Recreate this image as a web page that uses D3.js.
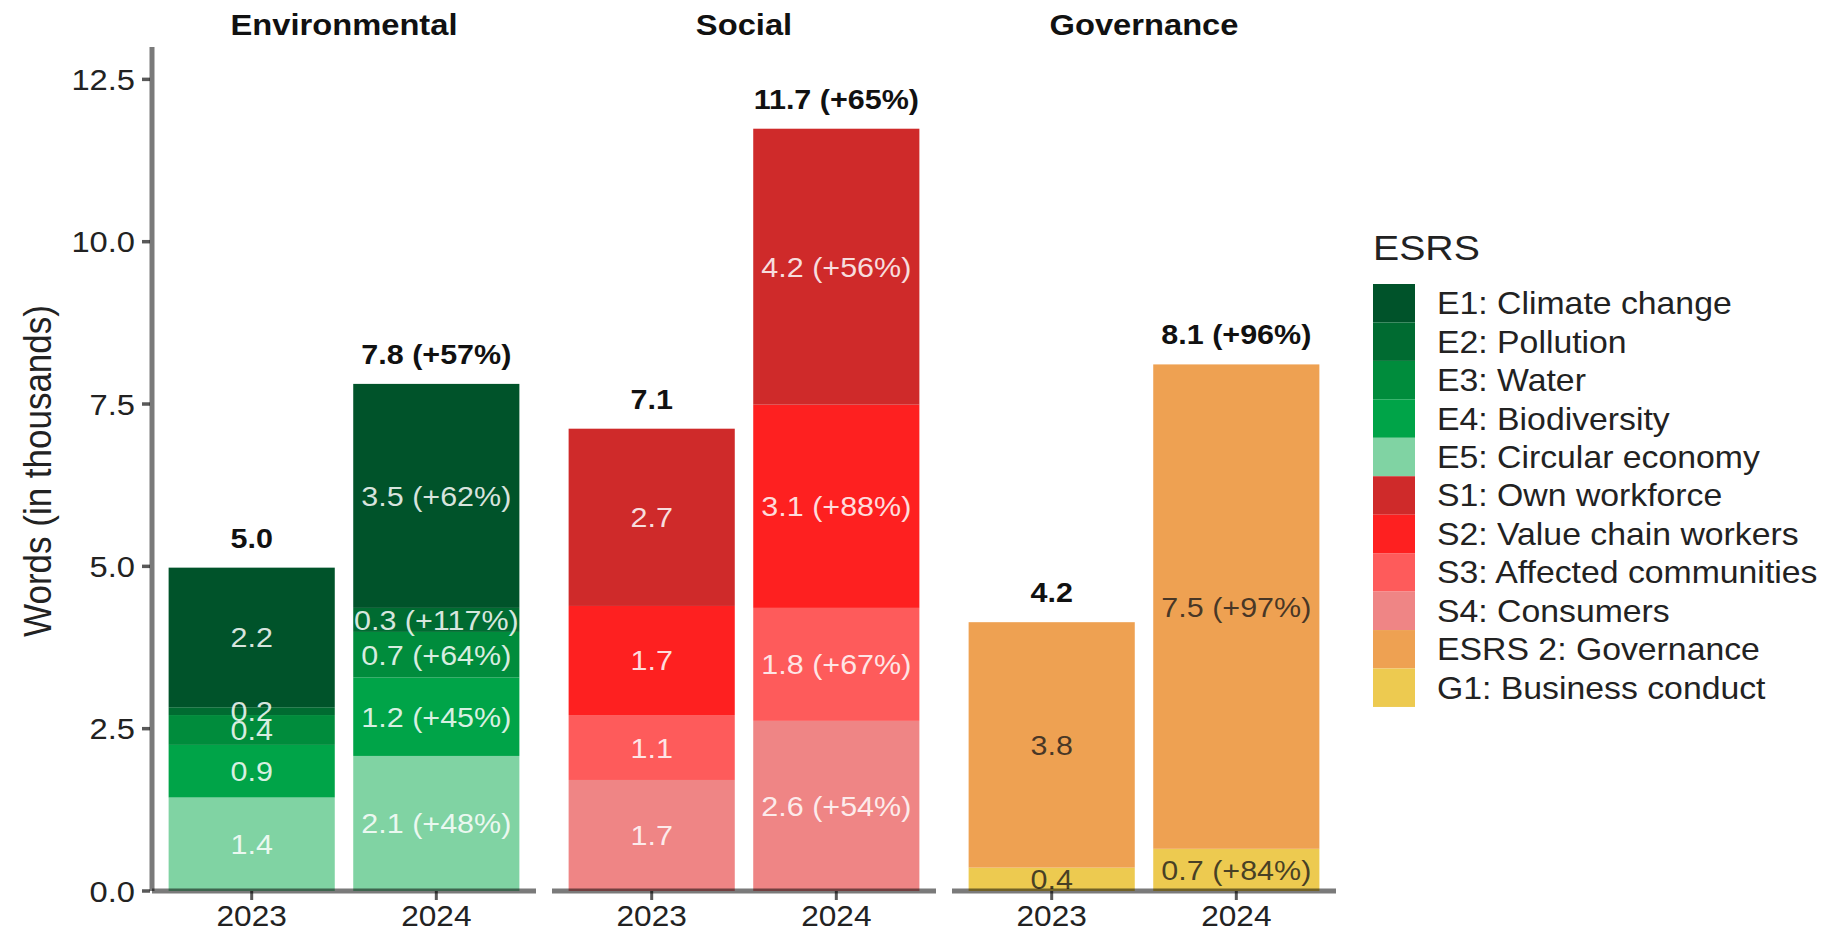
<!DOCTYPE html>
<html><head><meta charset="utf-8">
<script src="https://cdn.jsdelivr.net/npm/d3@7"></script>
<style>body{margin:0;background:#fff}svg{display:block}</style>
</head><body><svg id="c" width="1824" height="933"></svg>
<script>
// ---------- data ----------
const years = ["2023", "2024"];
const panels = ["Environmental", "Social", "Governance"];
const categories = ["E1: Climate change", "E2: Pollution", "E3: Water", "E4: Biodiversity", "E5: Circular economy",
  "S1: Own workforce", "S2: Value chain workers", "S3: Affected communities", "S4: Consumers",
  "ESRS 2: Governance", "G1: Business conduct"];
const categoryPanel = ["Environmental", "Environmental", "Environmental", "Environmental", "Environmental",
  "Social", "Social", "Social", "Social", "Governance", "Governance"];
const colors = ["#00532a", "#006b31", "#008c3c", "#00a448", "#80d3a3",
  "#cf2a2a", "#fe2020", "#fe5b5b", "#ef8585", "#eea152", "#edca50"];
const values2023 = [2.15, 0.12, 0.46, 0.81, 1.44, 2.73, 1.68, 1.00, 1.71, 3.78, 0.36];
const values2024 = [3.45, 0.37, 0.70, 1.21, 2.08, 4.25, 3.13, 1.74, 2.62, 7.46, 0.65];
const labels2023 = ["2.2", "0.2", "0.4", "0.9", "1.4", "2.7", "1.7", "1.1", "1.7", "3.8", "0.4"];
const labels2024 = ["3.5 (+62%)", "0.3 (+117%)", "0.7 (+64%)", "1.2 (+45%)", "2.1 (+48%)",
  "4.2 (+56%)", "3.1 (+88%)", "1.8 (+67%)", "2.6 (+54%)", "7.5 (+97%)", "0.7 (+84%)"];
const totalLabels2023 = ["5.0", "7.1", "4.2"];
const totalLabels2024 = ["7.8 (+57%)", "11.7 (+65%)", "8.1 (+96%)"];
const yTicks = [0, 2.5, 5, 7.5, 10, 12.5];
const yTitle = "Words (in thousands)";
const legendTitle = "ESRS";

// ---------- layout ----------
const SX = 1.09; // horizontal stretch of text in the reference
const FONT = "'Liberation Sans', Arial, Helvetica, sans-serif";
const svg = d3.select("#c");
const y = d3.scaleLinear().domain([0, 13]).range([891, 46.9]);
const panelX = d3.scaleBand().domain(panels).range([152, 1336]).paddingInner(16 / 384 / (1 + 16 / 384)).paddingOuter(0);
const valuesByYear = {"2023": values2023, "2024": values2024};
const labelsByYear = {"2023": labels2023, "2024": labels2024};
const totalsByYear = {"2023": totalLabels2023, "2024": totalLabels2024};

function txt(g, x, yy, s, o = {}) {
  const t = g.append("text")
    .attr("transform", `translate(${x},${yy}) scale(${SX},1)` + (o.rotate ? ` rotate(${o.rotate})` : ""))
    .attr("font-family", FONT)
    .attr("font-size", o.size || 30)
    .attr("font-weight", o.weight || "normal")
    .attr("text-anchor", o.anchor || "middle")
    .attr("fill", o.fill || "#222")
    .text(s);
  if (o.opacity != null) t.attr("fill-opacity", o.opacity);
  return t;
}

const gBars = svg.append("g");
const gLabels = svg.append("g");
const gAxes = svg.append("g");

panels.forEach((p, pi) => {
  const p0 = panelX(p), p1 = p0 + panelX.bandwidth();
  const x = d3.scaleBand().domain(years).range([p0, p1]).paddingInner(0.1).paddingOuter(0.09);
  const idx = categories.map((c, i) => i).filter(i => categoryPanel[i] === p);
  const stackOrder = idx.slice().reverse(); // last category at the bottom
  years.forEach(yr => {
    const vals = valuesByYear[yr];
    const rows = [Object.fromEntries(stackOrder.map(i => [categories[i], vals[i]]))];
    const series = d3.stack().keys(stackOrder.map(i => categories[i]))(rows);
    series.forEach(s => {
      const i = categories.indexOf(s.key);
      const [a, b] = s[0];
      gBars.append("rect")
        .attr("x", x(yr)).attr("width", x.bandwidth())
        .attr("y", y(b)).attr("height", y(a) - y(b))
        .attr("fill", colors[i]);
      const dark = categoryPanel[i] === "Governance";
      txt(gLabels, x(yr) + x.bandwidth() / 2, (y(a) + y(b)) / 2 + 10, labelsByYear[yr][i], {
        size: 28, fill: dark ? "#1a1a1a" : "#ffffff", opacity: dark ? 0.8 : 0.85
      });
    });
    const total = d3.sum(idx, i => vals[i]);
    txt(gLabels, x(yr) + x.bandwidth() / 2, y(total) - 20, totalsByYear[yr][pi], {size: 28, weight: "bold", fill: "#111"});
    // x tick + label
    const cx = x(yr) + x.bandwidth() / 2;
    gAxes.append("line").attr("x1", cx).attr("x2", cx).attr("y1", 891).attr("y2", 900)
      .attr("stroke", "#000").attr("stroke-opacity", 0.65).attr("stroke-width", 3);
    txt(gAxes, cx, 926, yr, {size: 29});
  });
  // x axis line
  gAxes.append("line").attr("x1", p0).attr("x2", p1).attr("y1", 891).attr("y2", 891)
    .attr("stroke", "#000").attr("stroke-opacity", 0.52).attr("stroke-width", 5);
  // strip title
  txt(gAxes, (p0 + p1) / 2, 35, p, {size: 30, weight: "bold", fill: "#111"});
});

// y axis
gAxes.append("line").attr("x1", 152).attr("x2", 152).attr("y1", y.range()[1]).attr("y2", 891)
  .attr("stroke", "#000").attr("stroke-opacity", 0.52).attr("stroke-width", 5);
yTicks.forEach(v => {
  gAxes.append("line").attr("x1", 142).attr("x2", 150).attr("y1", y(v)).attr("y2", y(v))
    .attr("stroke", "#000").attr("stroke-opacity", 0.65).attr("stroke-width", 3.5);
  txt(gAxes, 135, y(v) + 10.5, d3.format(".1f")(v), {size: 30, anchor: "end"});
});
txt(gAxes, 51, 471, yTitle, {size: 35, rotate: -90});

// legend
const gLeg = svg.append("g");
txt(gLeg, 1373, 260, legendTitle, {size: 36, anchor: "start"});
const keyH = 38.45;
categories.forEach((c, i) => {
  const ky = 284 + i * keyH;
  gLeg.append("rect").attr("x", 1373).attr("y", ky).attr("width", 42).attr("height", keyH)
    .attr("fill", colors[i]);
  txt(gLeg, 1437, ky + keyH / 2 + 11, c, {size: 31, anchor: "start"});
});
</script></body></html>
